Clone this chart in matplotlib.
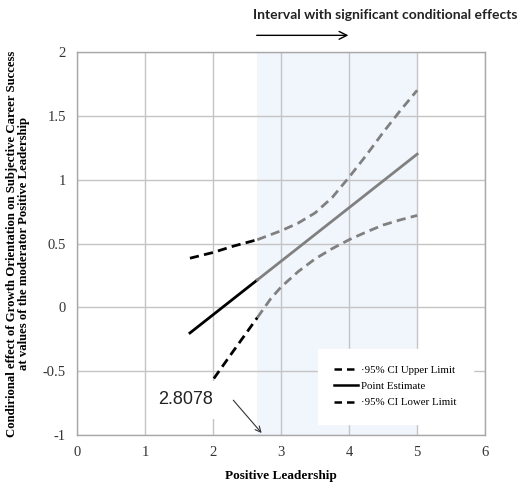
import numpy as np
import matplotlib.pyplot as plt

# values
x_sig = 2.65          # start of significance region (shaded)
x_max = 5.0
note_value = "2.8078"

pe_x = [1.66, 5.0]
pe_y = [-0.20, 1.20]

up_x = [1.66, 2.0, 2.3, 2.65, 3.0, 3.25, 3.5, 3.75, 4.0, 4.25, 4.5, 4.75, 5.0]
up_y = [0.385, 0.43, 0.48, 0.53, 0.60, 0.66, 0.74, 0.86, 1.02, 1.19, 1.37, 1.54, 1.70]

lo_x = [1.66, 1.98, 2.3, 2.65, 2.85, 3.0, 3.25, 3.5, 3.75, 4.0, 4.25, 4.5, 4.75, 5.0]
lo_y = [-0.84, -0.58, -0.34, -0.08, 0.07, 0.16, 0.28, 0.38, 0.46, 0.53, 0.59, 0.645, 0.685, 0.72]

xticks = [0, 1, 2, 3, 4, 5, 6]
yticks = [-1, -0.5, 0, 0.5, 1, 1.5, 2]
ytick_labels = ["-1", "-0.5", "0", "0.5", "1", "1.5", "2"]


def split(xs, ys, cut):
    xs = np.array(xs, dtype=float)
    ys = np.array(ys, dtype=float)
    yc = np.interp(cut, xs, ys)
    left = xs < cut
    lx = list(xs[left]) + [cut]
    ly = list(ys[left]) + [yc]
    rx = [cut] + list(xs[~left])
    ry = [yc] + list(ys[~left])
    return lx, ly, rx, ry


fig = plt.figure(figsize=(5.24, 4.9), dpi=100)
ax = fig.add_axes([0.147, 0.112, 0.779, 0.782])

ax.axvspan(x_sig, x_max, color="#f1f6fc", zorder=0, lw=0)

ax.set_xlim(0, 6)
ax.set_ylim(-1, 2)
ax.set_xticks(xticks)
ax.set_yticks(yticks)
ax.set_yticklabels(ytick_labels)
ax.grid(True, color="#c4c4c4", lw=1.0, zorder=1)
ax.set_axisbelow(True)
for s in ax.spines.values():
    s.set_color("#a8a8a8")
    s.set_linewidth(1.0)
ax.tick_params(length=0, pad=8, labelsize=10.5, labelcolor="#333333")
for lab in ax.get_xticklabels() + ax.get_yticklabels():
    lab.set_family("Liberation Serif")

dash = (0, (3.3, 1.9))
lw = 2.0

# black part (left of cut), gray part (right of cut)
for xs, ys, style in [(up_x, up_y, dash), (pe_x, pe_y, "-"), (lo_x, lo_y, dash)]:
    lx, ly, rx, ry = split(xs, ys, x_sig)
    ax.plot(lx, ly, color="black", lw=lw, linestyle=style, zorder=3)
    ax.plot(rx, ry, color="#808080", lw=lw, linestyle=style, zorder=3)

# value note box with arrow
ax.text(1.19, -0.725, note_value, fontsize=13, family="Liberation Sans", color="#222222",
        va="center", ha="left", zorder=5,
        bbox=dict(boxstyle="square,pad=0.6", fc="white", ec="none"))
ax.annotate("", xy=(2.74, -1.0), xytext=(2.27, -0.71),
            arrowprops=dict(arrowstyle="->", color="#333333", lw=0.8), zorder=6)

# legend as white box
leg_handles = [
    plt.Line2D([], [], color="black", lw=1.8, linestyle=(0, (3, 2))),
    plt.Line2D([], [], color="black", lw=1.8),
    plt.Line2D([], [], color="black", lw=1.8, linestyle=(0, (3, 2))),
]
leg_labels = ["·95% CI Upper Limit", "Point Estimate", "·95% CI Lower Limit"]
leg = ax.legend(leg_handles, leg_labels, loc="lower left", bbox_to_anchor=(0.59, 0.03),
                frameon=True, fancybox=False, framealpha=1, edgecolor="white",
                prop={"family": "Liberation Serif", "size": 7.8}, handlelength=2.2,
                handletextpad=0.3, labelspacing=0.6, borderpad=1.5, borderaxespad=0)
leg.set_zorder(7)

ax.set_xlabel("Positive Leadership", family="Liberation Serif", fontweight="bold",
              fontsize=9.5, labelpad=8)
ax.set_ylabel("Condirional effect of Growth Orientation on Subjective Career Success\n"
              "at values of the moderator Positive Leadership",
              family="Liberation Serif", fontweight="bold", fontsize=9.2, labelpad=9,
              linespacing=1.0)

# top annotation
fig.text(0.483, 0.97, "Interval with significant conditional effects", fontsize=10,
         fontweight="bold", family="Lato", ha="left", va="center", color="#222222")
ax.annotate("", xy=(4.03, 2.13), xytext=(2.6, 2.13), annotation_clip=False,
            arrowprops=dict(arrowstyle="->", color="black", lw=1.0, mutation_scale=14))

fig.savefig("out.png", dpi=100)
